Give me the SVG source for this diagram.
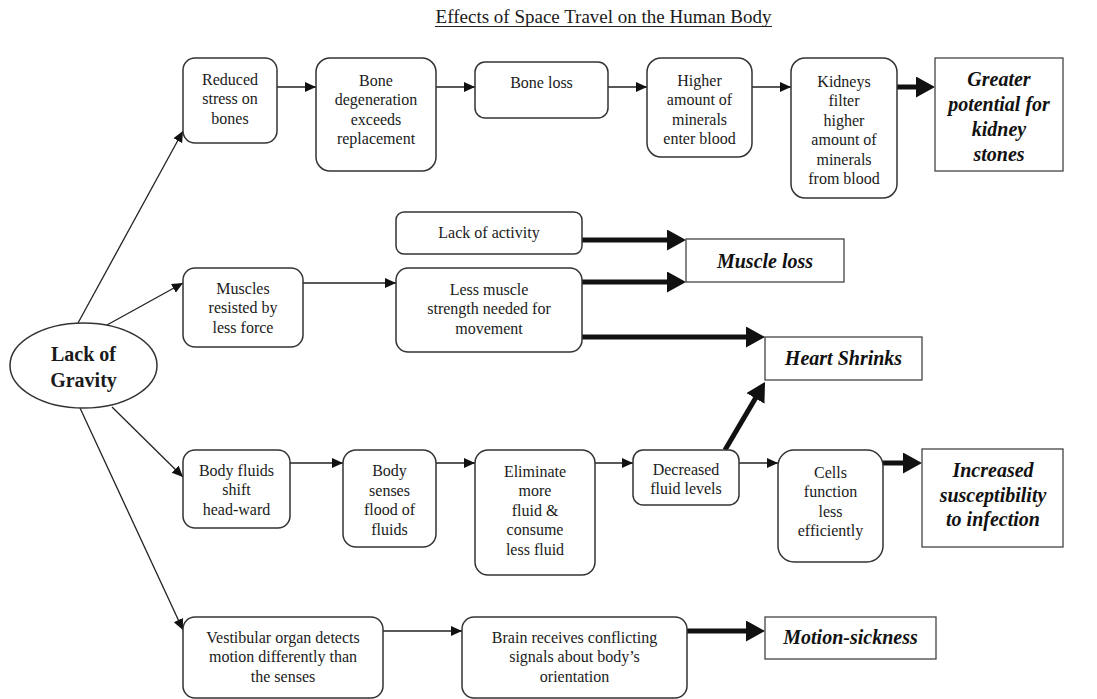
<svg xmlns="http://www.w3.org/2000/svg" width="1097" height="699" viewBox="0 0 1097 699">
  <defs>
    <marker id="thin" markerUnits="userSpaceOnUse" markerWidth="12" markerHeight="11" refX="11" refY="5" orient="auto">
      <path d="M0,0 L11,5 L0,10 z" fill="#111"/>
    </marker>
    <marker id="thick" markerUnits="userSpaceOnUse" markerWidth="20" markerHeight="22" refX="1" refY="10.5" orient="auto">
      <path d="M0,0 L19,10.5 L0,21 z" fill="#111"/>
    </marker>
    <style>
      .step { fill: #fff; stroke: #333; stroke-width: 1.5; }
      .result { fill: #fff; stroke: #444; stroke-width: 1.3; }
      .t { font-family: "Liberation Serif", "Times New Roman", serif; font-size: 16px; fill: #1a1a1a; text-anchor: middle; }
      .r { font-family: "Liberation Serif", "Times New Roman", serif; font-size: 20px; font-weight: bold; font-style: italic; fill: #111; text-anchor: middle; }
      .thin { stroke: #222; stroke-width: 1.3; fill: none; marker-end: url(#thin); }
      .fat { stroke: #111; stroke-width: 5; fill: none; marker-end: url(#thick); }
    </style>
  </defs>
  <rect width="1097" height="699" fill="#fff"/>

  <!-- title -->
  <text x="603.5" y="23" class="t" style="font-size:19px">Effects of Space Travel on the Human Body</text>
  <line x1="435" y1="26.5" x2="772" y2="26.5" stroke="#222" stroke-width="1"/>

  <!-- connectors -->
  <g id="connectors">
    <!-- from the central ellipse -->
    <line class="thin" x1="78" y1="323" x2="183" y2="131"/>
    <line class="thin" x1="107" y1="325" x2="183" y2="283"/>
    <line class="thin" x1="112" y1="407" x2="183" y2="477"/>
    <line class="thin" x1="80" y1="408" x2="183" y2="630"/>
    <!-- bone chain -->
    <line class="thin" x1="277" y1="87" x2="316" y2="87"/>
    <line class="thin" x1="436" y1="87" x2="475" y2="87"/>
    <line class="thin" x1="608" y1="87" x2="647" y2="87"/>
    <line class="thin" x1="752" y1="87" x2="791" y2="87"/>
    <line class="fat" x1="897" y1="87" x2="917" y2="87"/>
    <!-- muscle chain -->
    <line class="thin" x1="303" y1="283" x2="396" y2="283"/>
    <line class="fat" x1="582" y1="240" x2="668" y2="240"/>
    <line class="fat" x1="582" y1="282" x2="668" y2="282"/>
    <line class="fat" x1="582" y1="337" x2="747" y2="337"/>
    <!-- fluid chain -->
    <line class="thin" x1="290" y1="463" x2="343" y2="463"/>
    <line class="thin" x1="436" y1="463" x2="475" y2="463"/>
    <line class="thin" x1="595" y1="463" x2="633" y2="463"/>
    <line class="thin" x1="739" y1="463" x2="778" y2="463"/>
    <line class="fat" x1="725" y1="450" x2="755.9" y2="397.5"/>
    <line class="fat" x1="883" y1="463" x2="904" y2="463"/>
    <!-- vestibular chain -->
    <line class="thin" x1="383" y1="631" x2="462" y2="631"/>
    <line class="fat" x1="687" y1="631" x2="747" y2="631"/>
  </g>

  <!-- root -->
  <g id="lack-of-gravity">
    <ellipse cx="83.5" cy="365.5" rx="73.5" ry="42.5" fill="#fff" stroke="#333" stroke-width="1.5"/>
    <text class="t" x="83.5" y="361" style="font-size:20px;font-weight:bold">Lack of<tspan x="83.5" dy="26">Gravity</tspan></text>
  </g>

  <!-- bone row -->
  <g id="reduced-stress">
    <rect class="step" x="183" y="58" width="94" height="85" rx="12"/>
    <text class="t" x="230" y="84.5">Reduced<tspan x="230" dy="19.5">stress on</tspan><tspan x="230" dy="19.5">bones</tspan></text>
  </g>
  <g id="bone-degeneration">
    <rect class="step" x="316" y="58" width="120" height="113" rx="14"/>
    <text class="t" x="376" y="85.5">Bone<tspan x="376" dy="19.5">degeneration</tspan><tspan x="376" dy="19.5">exceeds</tspan><tspan x="376" dy="19.5">replacement</tspan></text>
  </g>
  <g id="bone-loss">
    <rect class="step" x="475" y="62" width="133" height="56" rx="10"/>
    <text class="t" x="541.5" y="87.5">Bone loss</text>
  </g>
  <g id="minerals-enter-blood">
    <rect class="step" x="647" y="58" width="105" height="99" rx="14"/>
    <text class="t" x="699.5" y="85.5">Higher<tspan x="699.5" dy="19.5">amount of</tspan><tspan x="699.5" dy="19.5">minerals</tspan><tspan x="699.5" dy="19.5">enter blood</tspan></text>
  </g>
  <g id="kidneys-filter">
    <rect class="step" x="791" y="58" width="106" height="140" rx="14"/>
    <text class="t" x="844" y="86.5">Kidneys<tspan x="844" dy="19.5">filter</tspan><tspan x="844" dy="19.5">higher</tspan><tspan x="844" dy="19.5">amount of</tspan><tspan x="844" dy="19.5">minerals</tspan><tspan x="844" dy="19.5">from blood</tspan></text>
  </g>
  <g id="kidney-stones">
    <rect class="result" x="935" y="58" width="128" height="113"/>
    <text class="r" x="999" y="86">Greater<tspan x="999" dy="25">potential for</tspan><tspan x="999" dy="25">kidney</tspan><tspan x="999" dy="25">stones</tspan></text>
  </g>

  <!-- muscle row -->
  <g id="lack-of-activity">
    <rect class="step" x="396" y="212" width="186" height="42" rx="8"/>
    <text class="t" x="489" y="237.5">Lack of activity</text>
  </g>
  <g id="less-muscle-strength">
    <rect class="step" x="396" y="268" width="186" height="84" rx="12"/>
    <text class="t" x="489" y="294.5">Less muscle<tspan x="489" dy="19.5">strength needed for</tspan><tspan x="489" dy="19.5">movement</tspan></text>
  </g>
  <g id="muscles-resisted">
    <rect class="step" x="183" y="268" width="120" height="79" rx="12"/>
    <text class="t" x="243" y="293.5">Muscles<tspan x="243" dy="19.5">resisted by</tspan><tspan x="243" dy="19.5">less force</tspan></text>
  </g>
  <g id="muscle-loss">
    <rect class="result" x="686" y="239" width="158" height="43"/>
    <text class="r" x="765" y="268">Muscle loss</text>
  </g>
  <g id="heart-shrinks">
    <rect class="result" x="765" y="337" width="157" height="43"/>
    <text class="r" x="843.5" y="365">Heart Shrinks</text>
  </g>

  <!-- fluid row -->
  <g id="fluid-shift">
    <rect class="step" x="183" y="450" width="107" height="78" rx="12"/>
    <text class="t" x="236.5" y="475.5">Body fluids<tspan x="236.5" dy="19.5">shift</tspan><tspan x="236.5" dy="19.5">head-ward</tspan></text>
  </g>
  <g id="senses-flood">
    <rect class="step" x="343" y="450" width="93" height="97" rx="13"/>
    <text class="t" x="389.5" y="476">Body<tspan x="389.5" dy="19.5">senses</tspan><tspan x="389.5" dy="19.5">flood of</tspan><tspan x="389.5" dy="19.5">fluids</tspan></text>
  </g>
  <g id="eliminate-fluid">
    <rect class="step" x="475" y="450" width="120" height="125" rx="13"/>
    <text class="t" x="535" y="476.5">Eliminate<tspan x="535" dy="19.5">more</tspan><tspan x="535" dy="19.5">fluid &amp;</tspan><tspan x="535" dy="19.5">consume</tspan><tspan x="535" dy="19.5">less fluid</tspan></text>
  </g>
  <g id="decreased-fluid">
    <rect class="step" x="633" y="450" width="106" height="55" rx="10"/>
    <text class="t" x="686" y="474.5">Decreased<tspan x="686" dy="19.5">fluid levels</tspan></text>
  </g>
  <g id="cells-function">
    <rect class="step" x="778" y="450" width="105" height="112" rx="16"/>
    <text class="t" x="830.5" y="477.5">Cells<tspan x="830.5" dy="19.5">function</tspan><tspan x="830.5" dy="19.5">less</tspan><tspan x="830.5" dy="19.5">efficiently</tspan></text>
  </g>
  <g id="infection">
    <rect class="result" x="922" y="449" width="141" height="98"/>
    <text class="r" x="993" y="477">Increased<tspan x="993" dy="24.5">susceptibility</tspan><tspan x="993" dy="24.5">to infection</tspan></text>
  </g>

  <!-- vestibular row -->
  <g id="vestibular-organ">
    <rect class="step" x="183" y="617" width="200" height="81" rx="12"/>
    <text class="t" x="283" y="642.5">Vestibular organ detects<tspan x="283" dy="19.5">motion differently than</tspan><tspan x="283" dy="19.5">the senses</tspan></text>
  </g>
  <g id="conflicting-signals">
    <rect class="step" x="462" y="617" width="225" height="81" rx="12"/>
    <text class="t" x="574.5" y="642.5">Brain receives conflicting<tspan x="574.5" dy="19.5">signals about body’s</tspan><tspan x="574.5" dy="19.5">orientation</tspan></text>
  </g>
  <g id="motion-sickness">
    <rect class="result" x="765" y="617" width="171" height="42"/>
    <text class="r" x="850.5" y="644">Motion-sickness</text>
  </g>
</svg>
